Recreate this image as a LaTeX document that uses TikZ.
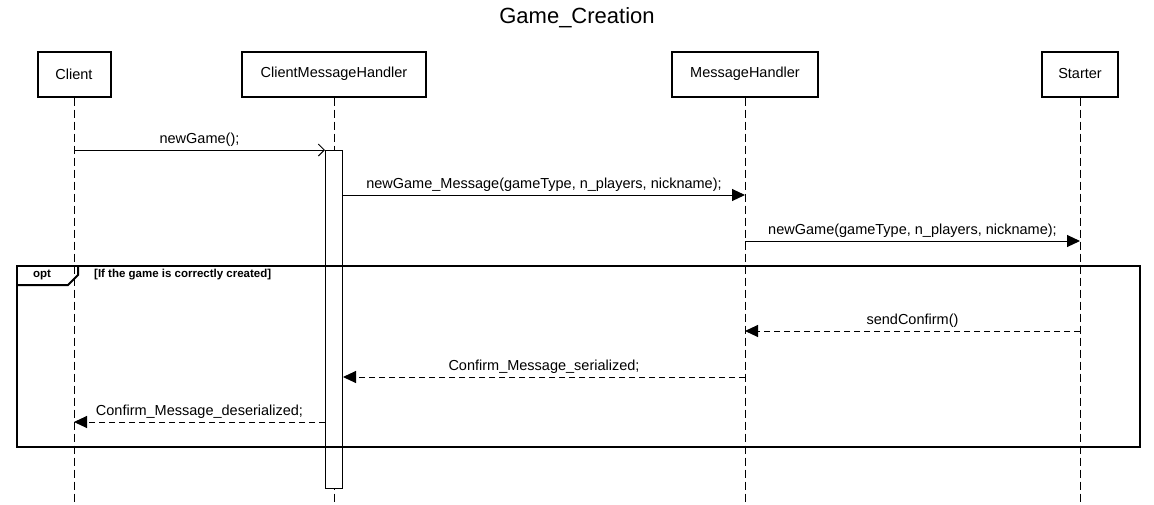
\documentclass[tikz,border=0pt]{standalone}
\usepackage{fontspec}
\setmainfont{Liberation Sans}
\usetikzlibrary{positioning,calc,arrows.meta}

\tikzset{
  actor/.style={draw, line width=2pt, minimum height=45pt, inner sep=0pt, font=\fontsize{14.5}{17}\selectfont},
  lifeline/.style={line width=1pt, dash pattern=on 8pt off 4pt},
  msg/.style={line width=1pt, -{Triangle[length=13pt,width=12pt]}},
  call/.style={line width=1pt, -{Straight Barb[length=6pt,width=12pt]}},
  reply/.style={msg, dash pattern=on 6pt off 4pt},
  lbl/.style={above=2pt, inner sep=1pt, font=\fontsize{14.5}{17}\selectfont},
  guard/.style={inner sep=0pt, font=\bfseries\fontsize{11.5}{13}\selectfont},
}

\begin{document}
\begin{tikzpicture}[x=1pt, y=-1pt]
	\useasboundingbox (0,0) rectangle (1154,504);
	\node [font=\fontsize{22}{26}\selectfont] (title) at (577,18) {Game\_Creation};
	% participants
	\node [actor, minimum width=73pt]  (client)  at (74,74)   {Client};
	\node [actor, minimum width=184pt] (cmh)     at (334,74)  {ClientMessageHandler};
	\node [actor, minimum width=146pt] (mh)      at (745,74)  {MessageHandler};
	\node [actor, minimum width=76pt]  (starter) at (1080,74) {Starter};
	% lifelines
	\coordinate (client end)  at (client |- 0,504);
	\coordinate (cmh end)     at (cmh |- 0,504);
	\coordinate (mh end)      at (mh |- 0,504);
	\coordinate (starter end) at (starter |- 0,504);
	\draw [lifeline] (client.south) -- (client end);
	\draw [lifeline] (cmh.south) -- (cmh end);
	\draw [lifeline] (mh.south) -- (mh end);
	\draw [lifeline] (starter.south) -- (starter end);
	% activation
	\node [draw, fill=white, line width=1pt, minimum width=17pt, minimum height=338pt, inner sep=0pt, anchor=north] (act) at (334,150) {};
	% messages
	\coordinate (m1) at (client |- 0,150);
	\coordinate (m2) at (act.east |- 0,195);
	\coordinate (m3) at (mh |- 0,241);
	\coordinate (m4) at (starter |- 0,331);
	\coordinate (m5) at (mh |- 0,377);
	\coordinate (m6) at (act.west |- 0,422);
	\draw [call] (m1) -- (act.north west) node [lbl, midway] {newGame();};
	\draw [msg] (m2) -- (mh |- m2) node [lbl, midway] {newGame\_Message(gameType, n\_players, nickname);};
	\draw [msg] (m3) -- (starter |- m3) node [lbl, midway] {newGame(gameType, n\_players, nickname);};
	\draw [reply] (m4) -- (mh |- m4) node [lbl, midway] {sendConfirm()};
	\draw [reply] (m5) -- (act.east |- m5) node [lbl, midway] {Confirm\_Message\_serialized;};
	\draw [reply] (m6) -- (client |- m6) node [lbl, midway] {Confirm\_Message\_deserialized;};
	% opt fragment
	\node [draw, line width=2pt, minimum width=1123pt, minimum height=181pt, inner sep=0pt, anchor=north west] (opt) at (16,265) {};
	\draw [line width=2pt] ($(opt.north west)+(0,20)$) -- ++(52,0) -- ++(10,-10) -- ($(opt.north west)+(62,0)$);
	\node [guard] (opt label) at ($(opt.north west)+(26,10)$) {opt};
	\node [guard, anchor=west] (opt guard) at ($(opt.north west)+(78,10)$) {[If the game is correctly created]};
\end{tikzpicture}
\end{document}
